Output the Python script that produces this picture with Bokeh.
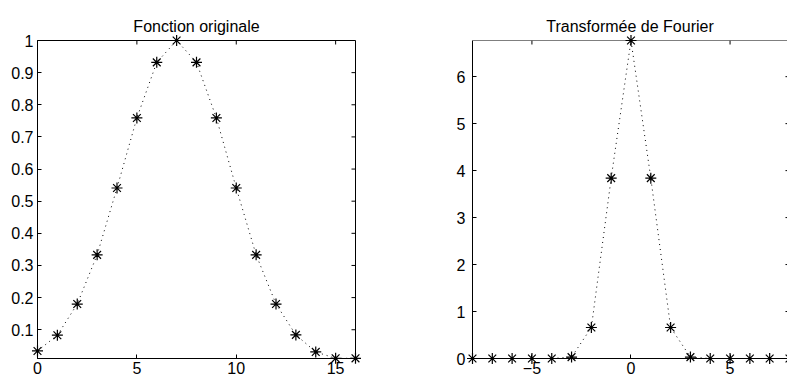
import math
from bokeh.plotting import figure
from bokeh.layouts import row
from bokeh.models import FixedTicker, Range1d, Span
from bokeh.embed import file_html
from bokeh.resources import INLINE

# ---- data ----
orig_x = list(range(0, 17))
orig_y = [0.034, 0.083, 0.180, 0.333, 0.541, 0.759, 0.932, 1.000, 0.932,
          0.759, 0.541, 0.333, 0.180, 0.084, 0.031, 0.011, 0.011]

four_x = list(range(-8, 9))
four_y = [0.0, 0.0, 0.0, 0.0, 0.0, 0.03, 0.66, 3.84, 6.77, 3.84, 0.66,
          0.03, 0.0, 0.0, 0.0, 0.0, 0.0]

left_xticks = [0, 5, 10, 15]
left_xlabels = ["0", "5", "10", "15"]
left_yticks = [0.1, 0.2, 0.3, 0.4, 0.5, 0.6, 0.7, 0.8, 0.9, 1.0]
left_ylabels = ["0.1", "0.2", "0.3", "0.4", "0.5", "0.6", "0.7", "0.8", "0.9", "1"]

right_xticks = [-5, 0, 5]
right_xlabels = ["\u22125", "0", "5"]
right_yticks = [0, 1, 2, 3, 4, 5, 6]
right_ylabels = ["0", "1", "2", "3", "4", "5", "6"]

left_xlim = (0, 16)
left_ylim = (0.0105, 1.0)
right_xlim = (-8, 8)          # full axis limits of the original
right_xview = (-8, 7.9)       # part that is visible in the picture
right_ylim = (0, 6.77)

title_left = "Fonction originale"
title_right = "Transformée de Fourier"

FONT = "Liberation Sans"
TICK_LEN = 4


def style_axis(ax, ticks, labels, standoff):
    ax.ticker = FixedTicker(ticks=ticks)
    ax.major_label_overrides = dict(zip(ticks, labels))
    ax.axis_line_color = "black"
    ax.axis_line_width = 1
    ax.major_tick_line_color = "black"
    ax.major_tick_in = TICK_LEN
    ax.major_tick_out = 0
    ax.minor_tick_line_color = None
    ax.major_label_text_font = FONT
    ax.major_label_text_color = "black"
    ax.major_label_text_font_size = "16px"
    ax.major_label_standoff = standoff


def make_fig(xr, yr, width, mb_left, mb_right, title):
    p = figure(width=width, height=376, x_range=xr, y_range=yr,
               output_backend="svg", toolbar_location=None,
               min_border_left=mb_left, min_border_right=mb_right,
               min_border_top=40, min_border_bottom=10)
    p.title.text = title
    p.title.text_font = FONT
    p.title.text_font_size = "16px"
    p.title.text_font_style = "normal"
    p.title.align = "center"
    p.title.vertical_align = "middle"
    p.title.text_color = "black"
    p.xgrid.grid_line_color = None
    p.ygrid.grid_line_color = None
    p.background_fill_color = "white"
    p.border_fill_color = "white"
    return p


# ---- left: original function ----
p1 = make_fig(Range1d(*left_xlim), Range1d(*left_ylim), 400, 37, 45, title_left)
p1.outline_line_color = "black"
p1.outline_line_width = 1
style_axis(p1.xaxis[0], left_xticks, left_xlabels, 3)
style_axis(p1.yaxis[0], left_yticks, left_ylabels, 4)
# inward ticks on top and right borders
p1.ray(x=left_xticks, y=[left_ylim[1]] * len(left_xticks), length=TICK_LEN,
       length_units="screen", angle=-math.pi / 2, line_color="black")
p1.ray(x=[left_xlim[1]] * len(left_yticks), y=left_yticks, length=TICK_LEN,
       length_units="screen", angle=math.pi, line_color="black")

p1.line(orig_x, orig_y, line_color="black", line_width=1, line_dash="1 4")
s1 = p1.scatter(orig_x, orig_y, marker="asterisk", size=11, line_color="black",
                line_width=1.2)
s1.level = "annotation"

# ---- right: Fourier transform ----
p2 = make_fig(Range1d(*right_xview), Range1d(*right_ylim), 387, 72, 0, title_right)
p2.outline_line_color = None
style_axis(p2.xaxis[0], right_xticks, right_xlabels, 3)
style_axis(p2.yaxis[0], right_yticks, right_ylabels, 7)
p2.add_layout(Span(location=right_ylim[1], dimension="width",
                   line_color="black", line_width=1))
p2.ray(x=right_xticks, y=[right_ylim[1]] * len(right_xticks), length=TICK_LEN,
       length_units="screen", angle=-math.pi / 2, line_color="black")
p2.ray(x=[right_xlim[1]] * len(right_yticks), y=right_yticks, length=TICK_LEN,
       length_units="screen", angle=math.pi, line_color="black")

p2.line(four_x, four_y, line_color="black", line_width=1, line_dash="1 4")
s2 = p2.scatter(four_x, four_y, marker="asterisk", size=11, line_color="black",
                line_width=1.2)
s2.level = "annotation"

layout = row(p1, p2)
open("out.html", "w").write(file_html(layout, INLINE))
